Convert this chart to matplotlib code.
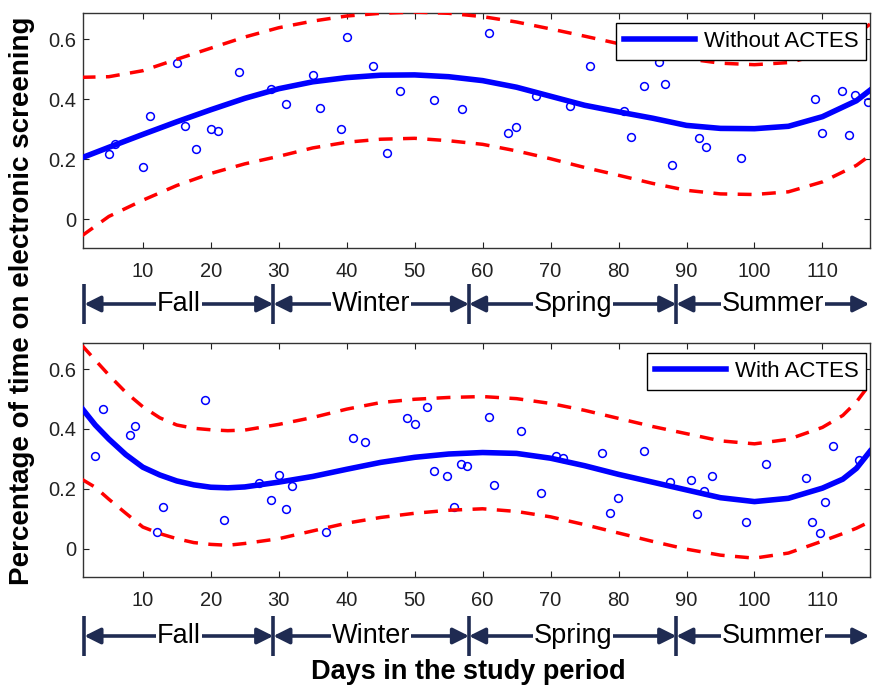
import numpy as np
from matplotlib import pyplot as plt

plt.rcParams['font.family'] = ['Liberation Sans', 'DejaVu Sans']

# days in the study period and the fitted curve with its bands
top_days = [1, 5, 10, 15, 20, 25, 30, 35, 40, 45, 50, 55, 60, 65, 70, 75, 80, 85, 90, 95, 100, 105, 110, 115, 117]
top_fit = [0.205, 0.240, 0.283, 0.325, 0.365, 0.403, 0.435, 0.458, 0.472, 0.480, 0.481, 0.475, 0.462,
           0.440, 0.410, 0.380, 0.358, 0.337, 0.313, 0.303, 0.302, 0.310, 0.342, 0.395, 0.430]
top_upper = [0.473, 0.475, 0.495, 0.533, 0.570, 0.607, 0.638, 0.660, 0.677, 0.686, 0.690, 0.686, 0.675,
             0.657, 0.634, 0.610, 0.585, 0.558, 0.535, 0.520, 0.515, 0.522, 0.550, 0.615, 0.650]
top_lower = [-0.055, 0.010, 0.064, 0.113, 0.153, 0.185, 0.210, 0.238, 0.257, 0.267, 0.270, 0.262, 0.250,
             0.228, 0.202, 0.173, 0.147, 0.120, 0.097, 0.085, 0.083, 0.092, 0.125, 0.180, 0.213]

top_pt_days = [5.0, 5.9, 10.0, 11.1, 15.1, 16.2, 17.9, 20.1, 21.1, 24.2, 28.9, 31.1, 35.1, 36.1,
               39.1, 40.1, 43.8, 46.0, 47.9, 52.9, 57.0, 60.9, 63.8, 64.9, 67.9, 72.9, 75.8, 80.8,
               81.9, 83.8, 86.0, 86.8, 87.8, 91.8, 92.9, 98.0, 108.9, 110.0, 112.9, 113.9, 114.8, 116.7]
top_pt_vals = [0.219, 0.250, 0.175, 0.343, 0.522, 0.312, 0.234, 0.301, 0.294, 0.492, 0.435, 0.383,
               0.481, 0.372, 0.301, 0.607, 0.511, 0.221, 0.427, 0.397, 0.367, 0.619, 0.287, 0.307,
               0.412, 0.378, 0.511, 0.362, 0.276, 0.444, 0.523, 0.451, 0.180, 0.271, 0.241, 0.204,
               0.402, 0.288, 0.427, 0.282, 0.415, 0.390]

bot_days = [1, 3, 5, 7.5, 10, 12.5, 15, 17.5, 20, 22.5, 25, 30, 35, 40, 45, 50, 55, 60, 65, 70, 75,
            80, 85, 90, 95, 100, 105, 110, 113, 115, 117]
bot_fit = [0.470, 0.413, 0.366, 0.314, 0.272, 0.246, 0.226, 0.213, 0.205, 0.203, 0.206, 0.222, 0.241,
           0.265, 0.288, 0.305, 0.316, 0.321, 0.318, 0.302, 0.277, 0.248, 0.222, 0.196, 0.170, 0.157,
           0.168, 0.202, 0.232, 0.268, 0.325]
bot_upper = [0.680, 0.630, 0.580, 0.522, 0.474, 0.437, 0.413, 0.402, 0.397, 0.394, 0.396, 0.415, 0.438,
             0.466, 0.488, 0.499, 0.505, 0.508, 0.501, 0.485, 0.462, 0.435, 0.408, 0.384, 0.360, 0.350,
             0.365, 0.405, 0.445, 0.490, 0.550]
bot_lower = [0.232, 0.205, 0.165, 0.118, 0.072, 0.050, 0.033, 0.020, 0.014, 0.011, 0.017, 0.033, 0.059,
             0.085, 0.104, 0.118, 0.128, 0.133, 0.124, 0.106, 0.080, 0.052, 0.024, -0.002, -0.022,
             -0.032, -0.015, 0.025, 0.050, 0.068, 0.090]

bot_pt_days = [3.0, 4.2, 8.1, 8.9, 12.1, 13.0, 19.1, 22.0, 27.1, 28.8, 30.0, 31.1, 31.9, 36.9, 40.9,
               42.7, 48.9, 50.0, 51.8, 52.9, 54.8, 55.8, 56.8, 57.7, 61.0, 61.7, 65.6, 68.6, 70.8,
               71.9, 77.6, 78.8, 79.9, 83.8, 87.6, 90.7, 91.6, 92.6, 93.7, 98.7, 101.7, 107.6, 108.5,
               109.6, 110.4, 111.6, 115.4]
bot_pt_vals = [0.308, 0.466, 0.379, 0.410, 0.057, 0.138, 0.496, 0.096, 0.218, 0.162, 0.247, 0.131,
               0.208, 0.057, 0.368, 0.355, 0.436, 0.416, 0.472, 0.259, 0.241, 0.139, 0.284, 0.275,
               0.441, 0.212, 0.392, 0.187, 0.310, 0.304, 0.320, 0.119, 0.168, 0.326, 0.223, 0.228,
               0.115, 0.193, 0.242, 0.090, 0.283, 0.235, 0.090, 0.053, 0.156, 0.343, 0.296]

seasons = ['Fall', 'Winter', 'Spring', 'Summer']
season_bounds = [1.4, 29.2, 58.0, 88.5, 116.9]

x_ticks = [10, 20, 30, 40, 50, 60, 70, 80, 90, 100, 110]
y_ticks = [0, 0.2, 0.4, 0.6]
y_tick_labels = ['0', '0.2', '0.4', '0.6']

NAVY = '#1f2b52'


def draw_panel(ax, days, fit, upper, lower, pt_days, pt_vals, label):
    ax.plot(pt_days, pt_vals, 'o', ms=5.6, mfc='none', mec='#0000ff', mew=1.1, zorder=2)
    ax.plot(days, upper, color='#ff0000', lw=2.5, ls=(0, (4, 3)), zorder=3)
    ax.plot(days, lower, color='#ff0000', lw=2.5, ls=(0, (4, 3)), zorder=3)
    ax.plot(days, fit, color='#0000ff', lw=4, zorder=4, label=label)

    ax.set_xlim(1.2, 117)
    ax.set_ylim(-0.095, 0.687)
    ax.set_xticks(x_ticks)
    ax.set_yticks(y_ticks)
    ax.set_yticklabels(y_tick_labels)
    ax.tick_params(direction='in', top=True, right=True, length=4, width=0.8,
                   labelsize=14.5, colors='#222222')
    ax.tick_params(axis='x', pad=10)
    ax.tick_params(axis='y', pad=5)
    for s in ax.spines.values():
        s.set_linewidth(1.0)
        s.set_color('#333333')

    leg = ax.legend(loc='upper right', bbox_to_anchor=(0.995, 0.957), borderaxespad=0,
                    fontsize=16, fancybox=False, edgecolor='black', framealpha=1,
                    handlelength=3.2, handletextpad=0.4, borderpad=0.35)
    leg.get_frame().set_linewidth(1.0)
    leg.set_zorder(10)


def draw_seasons(ax):
    ax.set_xlim(1.2, 117)
    ax.set_ylim(0, 1)
    ax.axis('off')
    for b in season_bounds[:-1]:
        ax.plot([b, b], [0.02, 0.98], color=NAVY, lw=2.6, clip_on=False, solid_capstyle='butt')
    for i, name in enumerate(seasons):
        a, b = season_bounds[i], season_bounds[i + 1]
        ax.annotate('', xy=(b, 0.5), xytext=(a, 0.5),
                    arrowprops=dict(arrowstyle='<|-|>', color=NAVY, lw=2.6,
                                    mutation_scale=24, shrinkA=0, shrinkB=0),
                    annotation_clip=False)
        ax.text((a + b) / 2, 0.5, name, ha='center', va='center', fontsize=19.5,
                bbox=dict(facecolor='white', edgecolor='none', pad=0.5))


fig = plt.figure(figsize=(8.72, 6.86), dpi=100)

ax1 = fig.add_axes([83 / 872, 1 - 248 / 686, 787 / 872, 235 / 686])
ax2 = fig.add_axes([83 / 872, 1 - 577 / 686, 787 / 872, 234 / 686])
band1 = fig.add_axes([83 / 872, 1 - 325 / 686, 787 / 872, 42 / 686])
band2 = fig.add_axes([83 / 872, 1 - 657 / 686, 787 / 872, 42 / 686])

draw_panel(ax1, top_days, top_fit, top_upper, top_lower, top_pt_days, top_pt_vals, 'Without ACTES')
draw_panel(ax2, bot_days, bot_fit, bot_upper, bot_lower, bot_pt_days, bot_pt_vals, 'With ACTES')
draw_seasons(band1)
draw_seasons(band2)

fig.text(22 / 872, 1 - 301 / 686, 'Percentage of time on electronic screening', rotation=90,
         ha='center', va='center', fontsize=20, fontweight='bold')
fig.text(468 / 872, 1 - 672 / 686, 'Days in the study period', ha='center', va='center',
         fontsize=19.5, fontweight='bold')

fig.savefig('out.png', dpi=100)
